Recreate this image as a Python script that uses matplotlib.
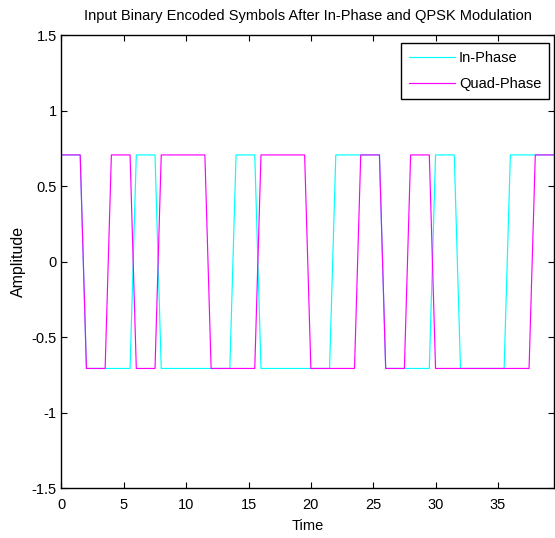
import numpy as np
import matplotlib.pyplot as plt

# symbol signs per 2-unit symbol slot (+1 -> +0.7071, -1 -> -0.7071)
in_phase_bits = [1, -1, -1, 1, -1, -1, -1, 1, -1, -1, -1, 1, 1, -1, -1, 1, -1, -1, 1, 1]
quad_phase_bits = [1, -1, 1, -1, 1, 1, -1, -1, 1, 1, -1, -1, 1, -1, 1, -1, -1, -1, -1, 1]
amplitude = 0.7071
samples_per_symbol = 4
time_step = 0.5

plt.rcParams['font.family'] = ['Liberation Sans', 'DejaVu Sans']

i_sig = np.repeat(np.array(in_phase_bits) * amplitude, samples_per_symbol)
q_sig = np.repeat(np.array(quad_phase_bits) * amplitude, samples_per_symbol)
t = np.arange(len(i_sig)) * time_step

fig = plt.figure(figsize=(5.55, 5.38), dpi=100)
ax = fig.add_axes([0.1108, 0.0926, 0.8874, 0.842])
ax.plot(t, i_sig, color=(0, 1, 1), linewidth=0.85, label='In-Phase')
ax.plot(t, q_sig, color=(1, 0, 1), linewidth=0.85, label='Quad-Phase')

ax.set_xlim(0, t[-1])
ax.set_ylim(-1.5, 1.5)
ax.set_xticks(np.arange(0, 40, 5))
ax.set_yticks([-1.5, -1, -0.5, 0, 0.5, 1, 1.5])
ax.set_yticklabels(['-1.5', '-1', '-0.5', '0', '0.5', '1', '1.5'])
ax.tick_params(direction='in', top=True, right=True, labelsize=10.5, length=4)
ax.tick_params(axis='x', pad=7.3)
ax.tick_params(axis='y', pad=3.5)
for s in ax.spines.values():
    s.set_linewidth(1)

ax.set_xlabel('Time', fontsize=10.5, labelpad=5)
ax.set_ylabel('Amplitude', fontsize=11.5, labelpad=4)
ax.set_title('Input Binary Encoded Symbols After In-Phase and QPSK Modulation', fontsize=10.5, pad=11)

leg = ax.legend(loc='upper right', bbox_to_anchor=(0.99, 0.982), borderaxespad=0,
                fontsize=10.5, fancybox=False, framealpha=1, edgecolor='black',
                handlelength=3.15, handletextpad=0.3, labelspacing=0.82, borderpad=0.53)
leg.get_frame().set_linewidth(1)

fig.savefig('out.png', dpi=100)
